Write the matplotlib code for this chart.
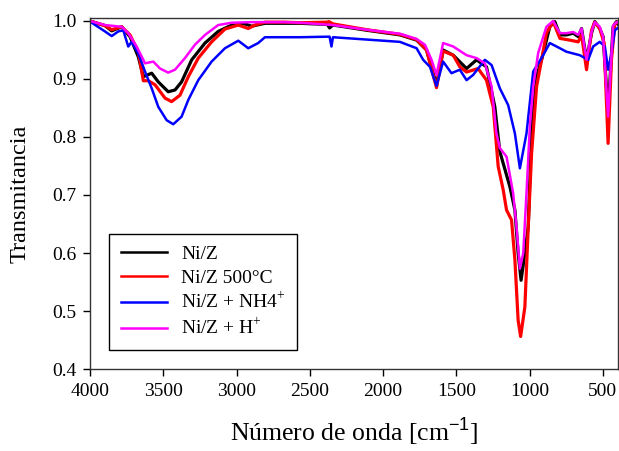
import matplotlib
matplotlib.use("Agg")
import matplotlib.pyplot as plt

# FTIR spectra (wavenumber in cm-1, transmittance)
wn_black = [4000, 3898, 3852, 3784, 3727, 3670, 3636, 3579, 3534, 3466, 3420, 3375,
            3306, 3215, 3125, 3033, 2943, 2897, 2806, 2670, 2567, 2380, 2365, 2342,
            2112, 1885, 1771, 1703, 1635, 1590, 1521, 1430, 1362, 1294, 1237, 1203,
            1134, 1100, 1078, 1058, 1040, 1009, 986, 952, 918, 862, 828, 793, 748,
            702, 668, 645, 611, 577, 555, 521, 498, 464, 430, 407, 398]
t_black = [1.0, 0.992, 0.983, 0.990, 0.973, 0.938, 0.904, 0.910, 0.895, 0.878, 0.881, 0.895,
           0.933, 0.962, 0.982, 0.993, 0.995, 0.991, 0.996, 0.996, 0.996, 0.994, 0.988, 0.993,
           0.984, 0.976, 0.967, 0.950, 0.890, 0.950, 0.941, 0.918, 0.933, 0.921, 0.852, 0.775,
           0.714, 0.674, 0.600, 0.553, 0.585, 0.645, 0.818, 0.904, 0.933, 0.990, 0.999, 0.976, 0.976,
           0.979, 0.973, 0.987, 0.933, 0.979, 0.999, 0.987, 0.973, 0.843, 0.990, 0.999, 0.995]

wn_red = [4000, 3898, 3852, 3784, 3727, 3670, 3636, 3602, 3556, 3488, 3443, 3386,
          3329, 3261, 3170, 3079, 2988, 2920, 2874, 2806, 2670, 2567, 2380, 2370,
          2342, 2112, 1885, 1771, 1703, 1635, 1590, 1521, 1476, 1430, 1351, 1294,
          1248, 1214, 1180, 1157, 1123, 1100, 1078, 1061, 1032, 1009, 986, 952,
          918, 885, 839, 793, 725, 668, 645, 611, 577, 555, 521, 491, 464, 441,
          418, 398]
t_red = [1.0, 0.992, 0.985, 0.990, 0.976, 0.947, 0.897, 0.897, 0.890, 0.867, 0.861, 0.872,
         0.904, 0.936, 0.964, 0.986, 0.993, 0.987, 0.993, 0.998, 0.998, 0.997, 0.998, 0.999,
         0.995, 0.985, 0.977, 0.968, 0.950, 0.885, 0.948, 0.941, 0.921, 0.912, 0.918, 0.898,
         0.852, 0.749, 0.709, 0.674, 0.657, 0.588, 0.484, 0.456, 0.507, 0.645, 0.772, 0.887,
         0.933, 0.979, 0.999, 0.970, 0.967, 0.964, 0.976, 0.916, 0.984, 0.998, 0.987, 0.962,
         0.789, 0.933, 0.995, 0.998]

wn_blue = [4000, 3898, 3852, 3807, 3773, 3739, 3716, 3670, 3625, 3579, 3534, 3477,
           3432, 3375, 3329, 3261, 3170, 3079, 2988, 2920, 2852, 2806, 2670, 2567,
           2365, 2352, 2342, 2112, 1885, 1771, 1726, 1680, 1635, 1590, 1533, 1476,
           1430, 1385, 1305, 1259, 1203, 1146, 1100, 1066, 1021, 975, 907, 862,
           793, 748, 657, 600, 566, 521, 486, 464, 441, 418, 398]
t_blue = [0.999, 0.982, 0.974, 0.982, 0.984, 0.956, 0.964, 0.944, 0.913, 0.884, 0.852, 0.829,
          0.822, 0.835, 0.864, 0.898, 0.930, 0.953, 0.966, 0.953, 0.962, 0.972, 0.972, 0.972,
          0.973, 0.956, 0.972, 0.968, 0.964, 0.953, 0.933, 0.921, 0.888, 0.930, 0.910, 0.916,
          0.898, 0.907, 0.933, 0.924, 0.884, 0.855, 0.806, 0.746, 0.806, 0.913, 0.941, 0.962,
          0.953, 0.947, 0.941, 0.933, 0.956, 0.964, 0.956, 0.916, 0.944, 0.984, 0.988]

wn_mag = [4000, 3898, 3784, 3739, 3682, 3636, 3625, 3568, 3522, 3466, 3420, 3352,
          3284, 3215, 3125, 3033, 2897, 2670, 2567, 2342, 2112, 1885, 1771, 1714,
          1669, 1635, 1590, 1521, 1430, 1362, 1305, 1259, 1226, 1203, 1157, 1112,
          1089, 1066, 1043, 1021, 998, 975, 941, 885, 839, 793, 748, 702, 668,
          645, 611, 577, 555, 521, 498, 464, 430, 407, 398]
t_mag = [1.0, 0.993, 0.990, 0.979, 0.956, 0.933, 0.927, 0.930, 0.918, 0.911, 0.916, 0.936,
         0.959, 0.976, 0.993, 0.997, 0.998, 0.998, 0.997, 0.993, 0.985, 0.978, 0.969, 0.959,
         0.933, 0.907, 0.962, 0.956, 0.941, 0.936, 0.927, 0.887, 0.806, 0.781, 0.766, 0.703,
         0.645, 0.573, 0.600, 0.703, 0.818, 0.887, 0.945, 0.990, 1.0, 0.979, 0.979, 0.981, 0.976,
         0.987, 0.933, 0.981, 0.998, 0.990, 0.973, 0.835, 0.992, 0.998, 0.998]

labels = ['Ni/Z', 'Ni/Z 500°C', r'Ni/Z + NH4$^{\mathrm{+}}$', r'Ni/Z + H$^{\mathrm{+}}$']
x_ticks = [4000, 3500, 3000, 2500, 2000, 1500, 1000, 500]
y_ticks = [0.4, 0.5, 0.6, 0.7, 0.8, 0.9, 1.0]

plt.rcParams['font.family'] = ['Liberation Serif', 'DejaVu Serif']
plt.rcParams['mathtext.fontset'] = 'custom'
plt.rcParams['mathtext.rm'] = 'Liberation Serif'
plt.rcParams['mathtext.sf'] = 'Liberation Sans'

fig = plt.figure(figsize=(6.19, 4.51), dpi=100)
ax = fig.add_axes([0.1454, 0.1818, 0.8526, 0.779])

ax.plot(wn_black, t_black, color='black', lw=2.3, label=labels[0])
ax.plot(wn_red, t_red, color='red', lw=2.3, label=labels[1])
ax.plot(wn_blue, t_blue, color='blue', lw=1.8, label=labels[2])
ax.plot(wn_mag, t_mag, color='magenta', lw=1.8, label=labels[3])

ax.set_xlim(4000, 398)
ax.set_ylim(0.4, 1.0057)
ax.set_xticks(x_ticks)
ax.set_yticks(y_ticks)
ax.set_yticklabels(['%.1f' % v for v in y_ticks])
ax.tick_params(direction='out', length=5, width=1, labelsize=14, pad=5)
for s in ax.spines.values():
    s.set_linewidth(1)
    s.set_color('#333333')

ax.set_xlabel(r'Número de onda [cm$^{\mathsf{-1}}$]', fontsize=18.5, labelpad=11)
ax.set_ylabel('Transmitancia', fontsize=17.5, labelpad=15)

leg = ax.legend(loc='lower left', bbox_to_anchor=(0.036, 0.054), borderaxespad=0,
                fontsize=14, fancybox=False, edgecolor='black', framealpha=1,
                handlelength=2.4, labelspacing=0.3, borderpad=0.6, handletextpad=0.7)
leg.get_frame().set_linewidth(1)
for h in leg.get_lines():
    h.set_linewidth(1.8)

fig.savefig('out.png', dpi=100)
